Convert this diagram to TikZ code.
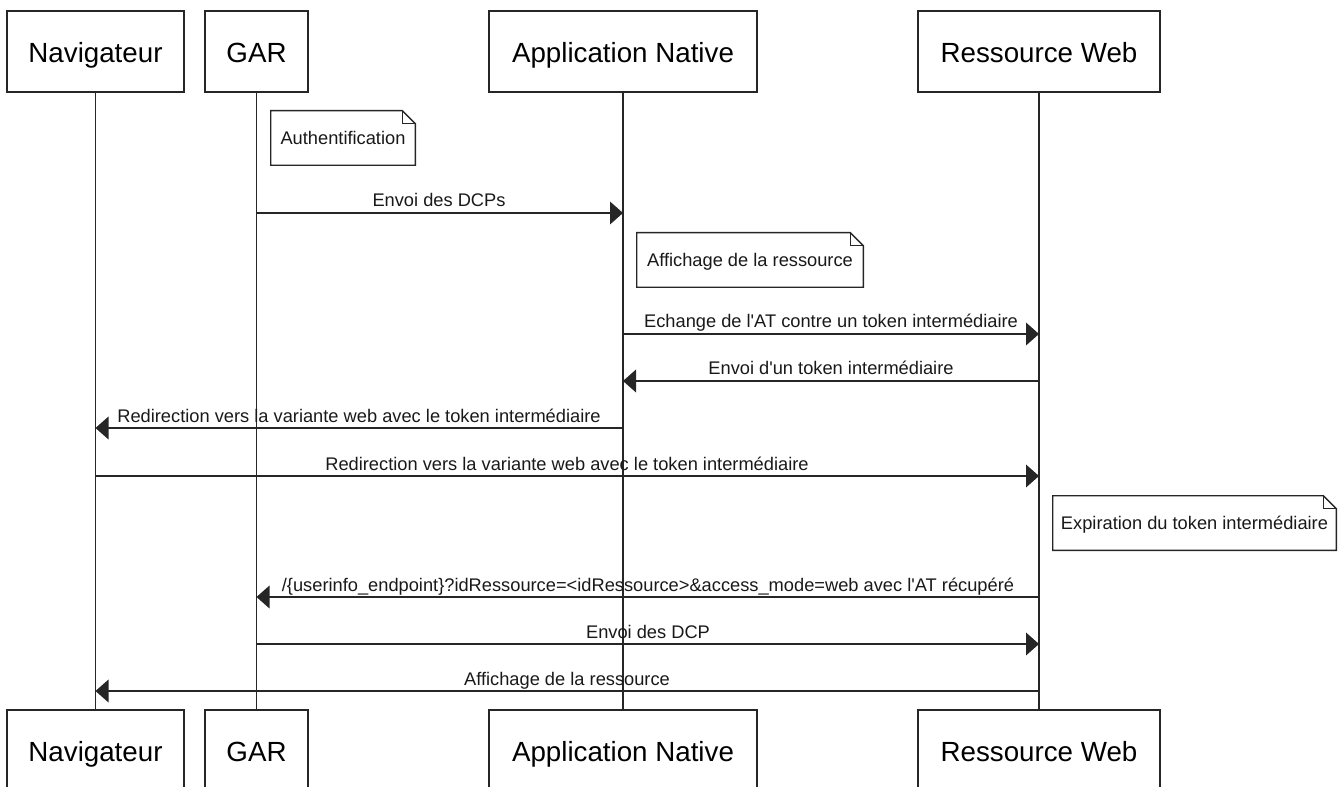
\documentclass[tikz,border=0pt]{standalone}
\usepackage{fontspec}
\setmainfont{Liberation Sans}
\usetikzlibrary{arrows.meta}
\begin{document}
\begin{tikzpicture}[x=0.75pt,y=-0.75pt,
  line/.style={draw=black!85, line width=1.1pt},
  actor/.style={line, fill=white, font=\fontsize{20.8}{24}\selectfont, text height=17pt, text depth=0pt, minimum height=81*0.75pt, inner sep=0pt},
  msg/.style={line, -{Triangle[length=9.75pt,width=17pt]}},
  lbl/.style={font=\fontsize{13.7}{16}\selectfont, anchor=base, inner sep=0pt, text=black!90},
  notebox/.style={font=\fontsize{13.7}{16}\selectfont, minimum height=54*0.75pt, inner sep=0pt, text height=9.8pt, text depth=0pt, text=black!90}
]
\useasboundingbox (0,0) rectangle (1344,787);
% actors top
\node[actor, minimum width=177*0.75pt] (navT) at (95.5,51.5) {Navigateur};
\node[actor, minimum width=103*0.75pt] (garT) at (256.5,51.5) {GAR};
\node[actor, minimum width=268*0.75pt] (appT) at (623,51.5) {Application Native};
\node[actor, minimum width=242*0.75pt] (rwT) at (1039,51.5) {Ressource Web};
% actors bottom
\node[actor, minimum width=177*0.75pt] (navB) at (95.5,750.5) {Navigateur};
\node[actor, minimum width=103*0.75pt] (garB) at (256.5,750.5) {GAR};
\node[actor, minimum width=268*0.75pt] (appB) at (623,750.5) {Application Native};
\node[actor, minimum width=242*0.75pt] (rwB) at (1039,750.5) {Ressource Web};
% lifelines
\draw[line] (navT.south) -- (navB.north);
\draw[line] (garT.south) -- (garB.north);
\draw[line] (appT.south) -- (appB.north);
\draw[line] (rwT.south) -- (rwB.north);
% notes
\newcommand{\notefold}[1]{%
  \fill[white] (#1.north west) rectangle (#1.south east);
  \draw[line] (#1.north west) -- ([xshift=-9.75pt]#1.north east) -- ([yshift=-9.75pt]#1.north east) -- (#1.south east) -- (#1.south west) -- cycle;
  \draw[line] ([xshift=-9.75pt]#1.north east) -- ([xshift=-9.75pt,yshift=-9.75pt]#1.north east) -- ([yshift=-9.75pt]#1.north east);
}
\node[notebox, minimum width=144*0.75pt] (n1) at (343,138) {};
\notefold{n1}
\node[notebox, minimum width=144*0.75pt] at (343,138) {Authentification};
\node[notebox, minimum width=226*0.75pt] (n2) at (750,260) {};
\notefold{n2}
\node[notebox, minimum width=226*0.75pt] at (750,260) {Affichage de la ressource};
\node[notebox, minimum width=283*0.75pt] (n3) at (1194.5,523) {};
\notefold{n3}
\node[notebox, minimum width=283*0.75pt] at (1194.5,523) {Expiration du token interm\'ediaire};
% messages
\draw[msg] (garT.south |- 0,213) -- (appT.south |- 0,213);
\node[lbl] at (439,207) {Envoi des DCPs};
\draw[msg] (appT.south |- 0,334) -- (rwT.south |- 0,334);
\node[lbl] at (831,328) {Echange de l\textquotesingle AT contre un token interm\'ediaire};
\draw[msg] (rwT.south |- 0,381) -- (appT.south |- 0,381);
\node[lbl] at (831,375) {Envoi d\textquotesingle un token interm\'ediaire};
\draw[msg] (appT.south |- 0,428) -- (navT.south |- 0,428);
\node[lbl] at (359,422) {Redirection vers la variante web avec le token interm\'ediaire};
\draw[msg] (navT.south |- 0,476) -- (rwT.south |- 0,476);
\node[lbl] at (567,470) {Redirection vers la variante web avec le token interm\'ediaire};
\draw[msg] (rwT.south |- 0,597) -- (garT.south |- 0,597);
\node[lbl] at (648,591) {/\{userinfo\_endpoint\}?idRessource=<idRessource>\&access\_mode=web avec l\textquotesingle AT r\'ecup\'er\'e};
\draw[msg] (garT.south |- 0,644) -- (rwT.south |- 0,644);
\node[lbl] at (648,638) {Envoi des DCP};
\draw[msg] (rwT.south |- 0,691) -- (navT.south |- 0,691);
\node[lbl] at (567,685) {Affichage de la ressource};
\end{tikzpicture}
\end{document}
